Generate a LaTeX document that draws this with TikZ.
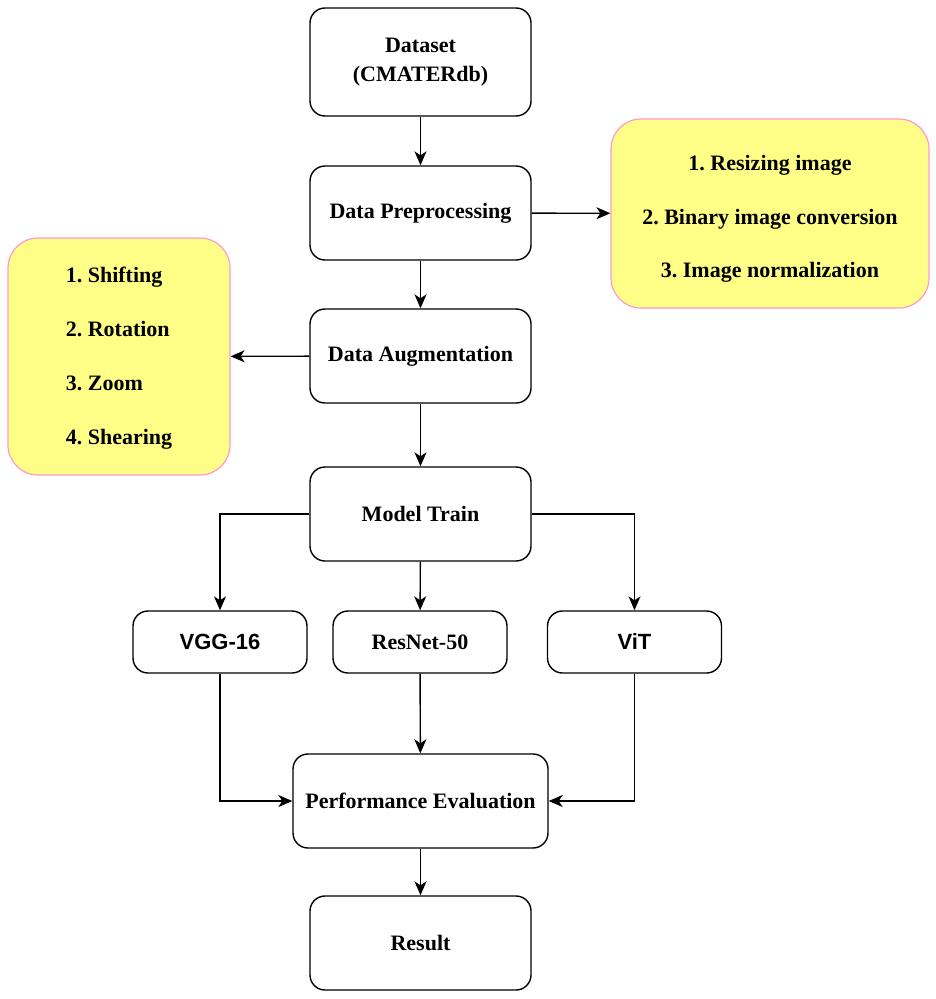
\documentclass[tikz,border=0pt]{standalone}
\usepackage{fontspec}
\setmainfont{Liberation Serif}
\newfontfamily\arialfont{Liberation Sans}
\usetikzlibrary{arrows.meta}
\definecolor{noteyellow}{RGB}{255,255,136}
\definecolor{notepink}{RGB}{255,153,204}
\frenchspacing
\begin{document}
\begin{tikzpicture}[x=1pt,y=-1pt,
  box/.style={draw=black, line width=1.4pt, rounded corners=15pt, fill=white, inner sep=0pt, font=\fontsize{22}{29}\selectfont\bfseries, align=center},
  sansbox/.style={box, font=\arialfont\fontsize{22}{26}\selectfont\bfseries},
  note/.style={draw=notepink, line width=1.2pt, rounded corners=30pt, fill=noteyellow, inner sep=0pt},
  notetext/.style={inner sep=0pt, font=\fontsize{22}{53.5}\selectfont\bfseries},
  conn/.style={line width=1.4pt, -{Stealth[length=14pt,width=12pt,inset=4pt]}}
]
\useasboundingbox (0,0) rectangle (936,999);
\node[box, minimum width=221pt, minimum height=108pt] (ds) at (420.5,62) {Dataset\\(CMATERdb)};
\node[box, minimum width=221pt, minimum height=94pt] (pre) at (420.5,213) {Data Preprocessing};
\node[box, minimum width=221pt, minimum height=94pt] (aug) at (420.5,356) {Data Augmentation};
\node[box, minimum width=221pt, minimum height=94pt] (mt) at (420.5,514) {Model Train};
\node[sansbox, minimum width=174pt, minimum height=62pt] (vgg) at (220,642) {VGG-16};
\node[box, minimum width=174pt, minimum height=62pt] (rn) at (420,642) {ResNet-50};
\node[sansbox, minimum width=174pt, minimum height=62pt] (vit) at (634.5,642) {ViT};
\node[box, minimum width=255pt, minimum height=94pt] (perf) at (420.5,801) {Performance Evaluation};
\node[box, minimum width=221pt, minimum height=94pt] (res) at (420.5,943) {Result};
\node[note, minimum width=318pt, minimum height=189pt] (nr) at (770,213.5) {};
\node[note, minimum width=222pt, minimum height=237pt] (nl) at (119,356.5) {};
\node[notetext, align=center] (nrt) at (770,219) {1. Resizing image\\2. Binary image conversion\\3. Image normalization};
\node[notetext, align=left, font=\fontsize{22}{54}\selectfont\bfseries] (nlt) at (119,358) {1. Shifting\\2. Rotation\\3. Zoom\\4. Shearing};
\draw[conn] (ds) -- (pre);
\draw[conn] (pre) -- (nr);
\draw[conn] (pre) -- (aug);
\draw[conn] (aug) -- (nl);
\draw[conn] (aug) -- (mt);
\draw[conn] (mt.west) -| (vgg.north);
\draw[conn] (mt) -- (rn);
\draw[conn] (mt.east) -| (vit.north);
\draw[conn] (vgg.south) |- (perf.west);
\draw[conn] (rn) -- (perf);
\draw[conn] (vit.south) |- (perf.east);
\draw[conn] (perf) -- (res);
\end{tikzpicture}
\end{document}
